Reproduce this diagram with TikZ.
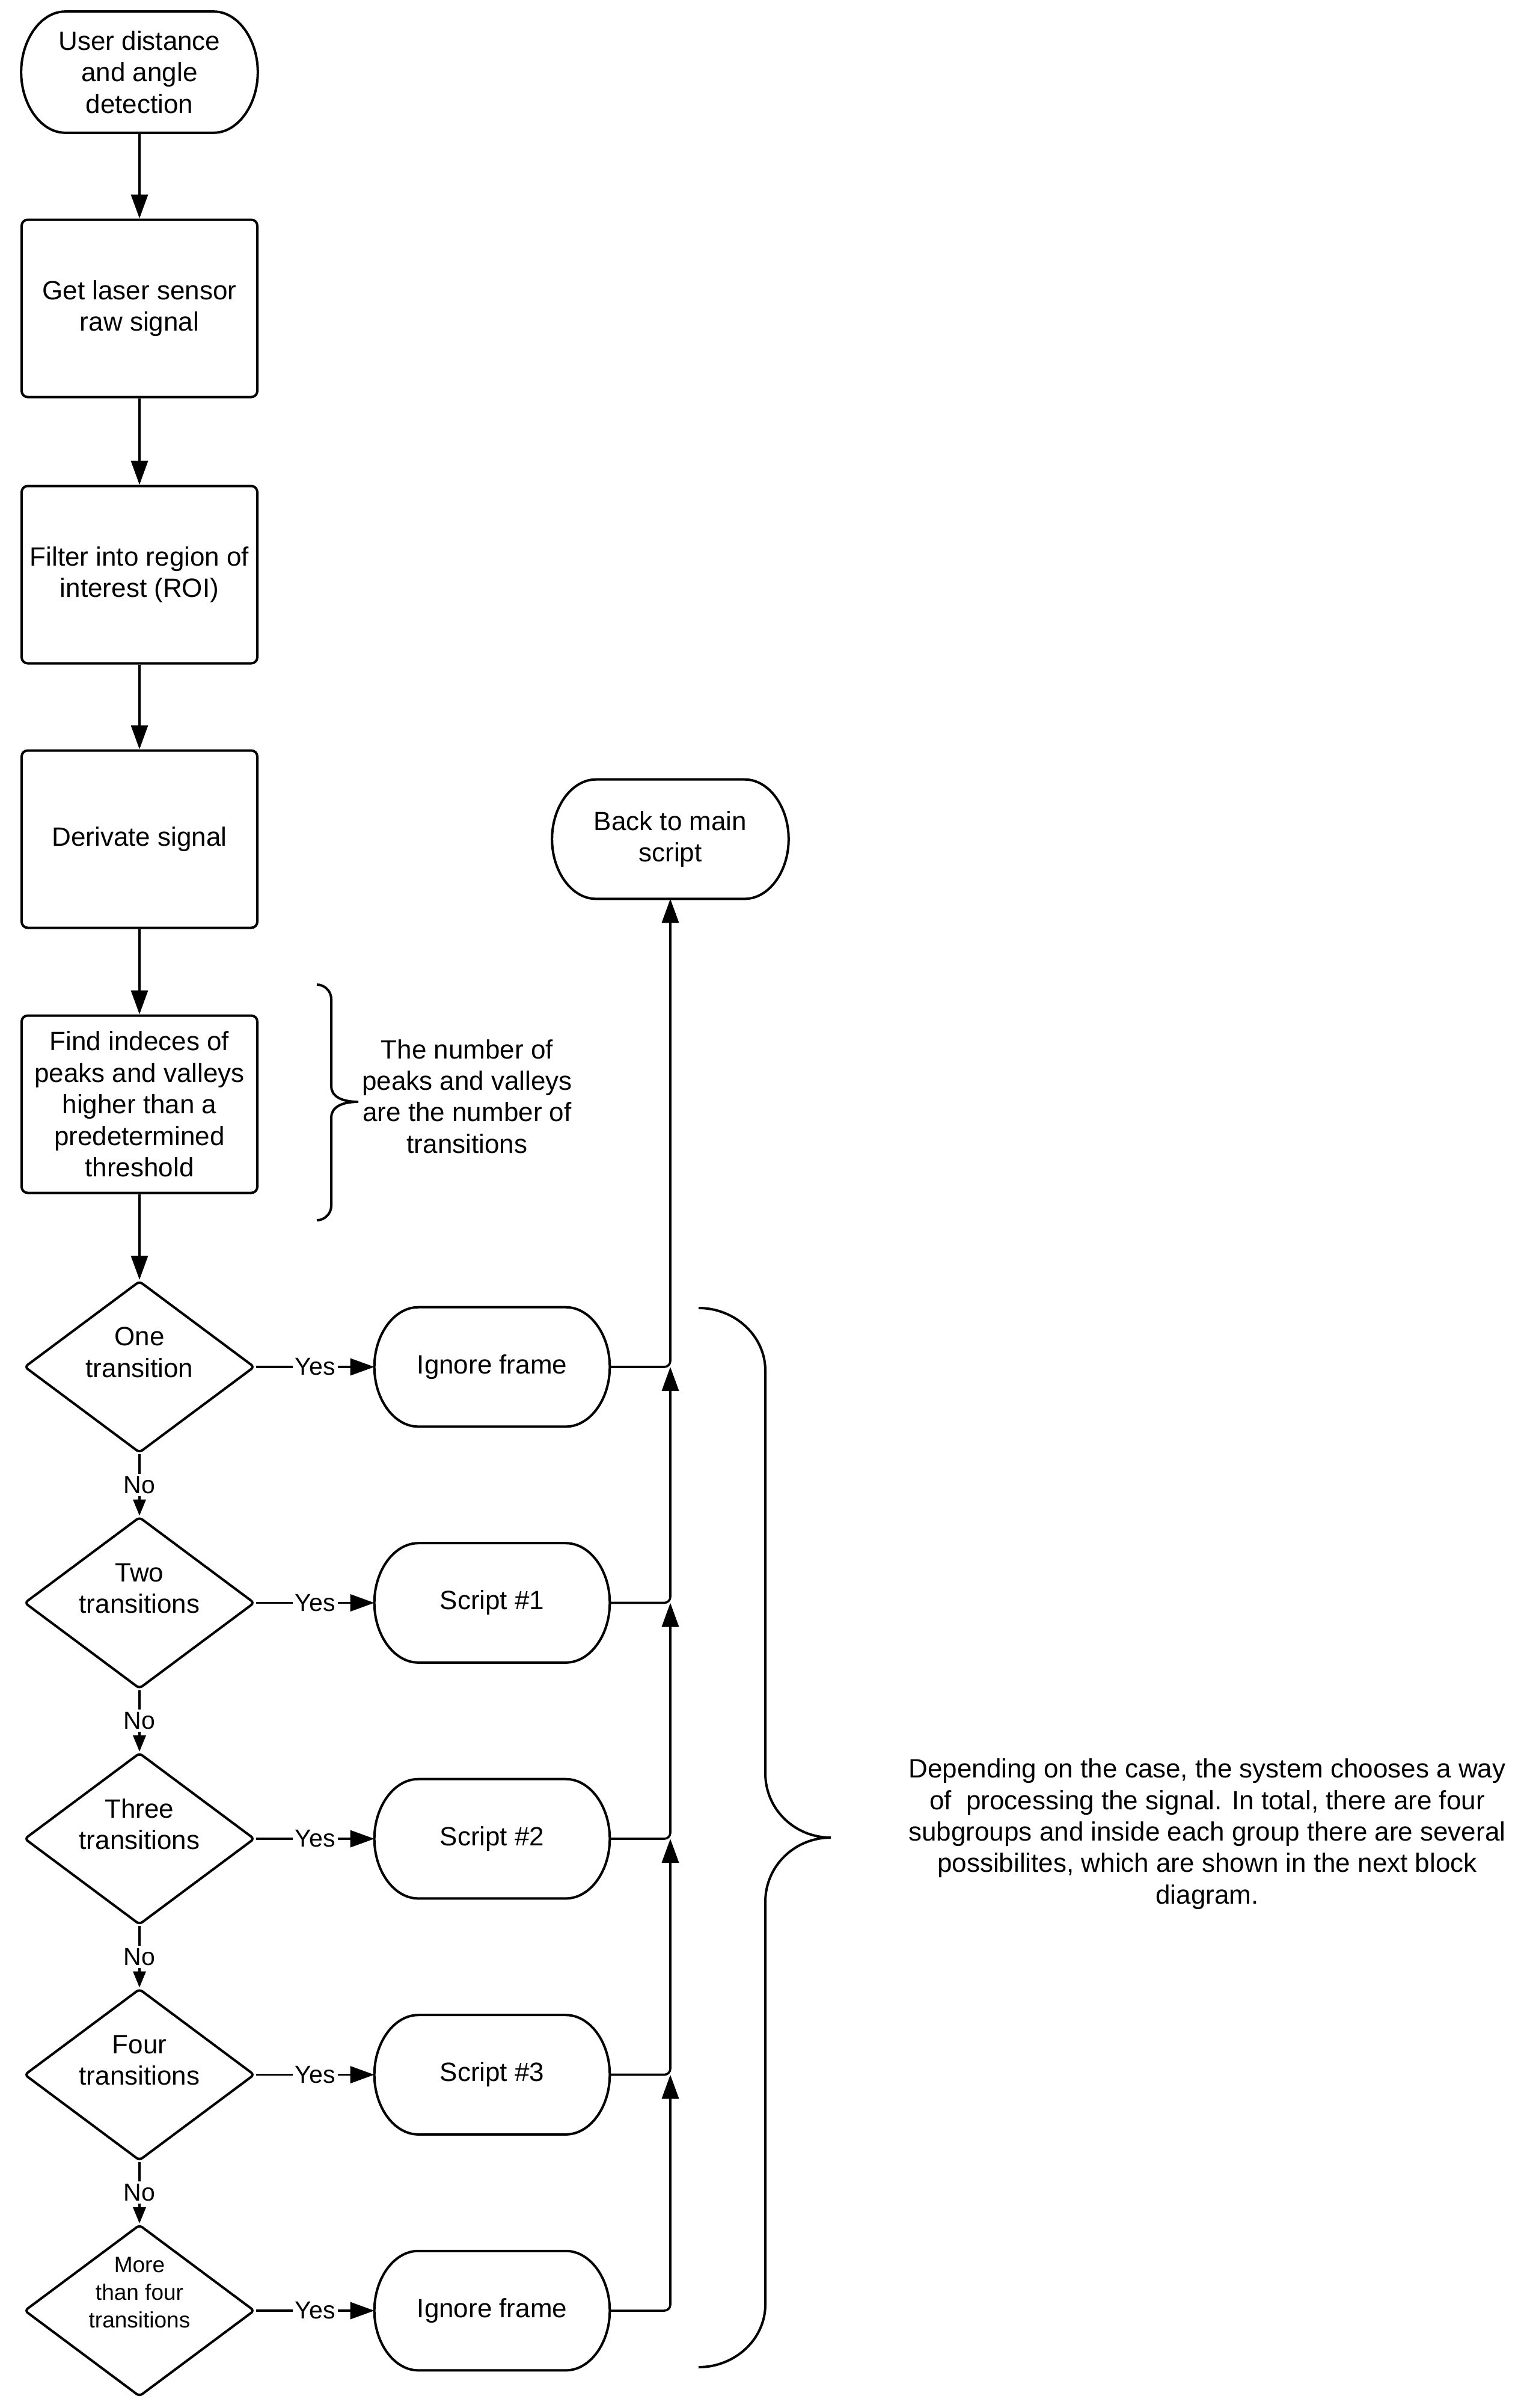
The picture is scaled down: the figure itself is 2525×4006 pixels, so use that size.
\documentclass[tikz,border=0pt]{standalone}
\usepackage{fontspec}
\setmainfont{Liberation Sans}
\usetikzlibrary{arrows.meta,shapes.geometric,calc}
\newcommand\stadoutline[1]{%
  \draw[shapeline] ($(#1.north west)+(73,0)$) -- ($(#1.north east)+(-73,0)$)
    .. controls ($(#1.north east)+(-33,0)$) and ($(#1.east)+(0,-54)$) .. (#1.east)
    .. controls ($(#1.east)+(0,54)$) and ($(#1.south east)+(-33,0)$) .. ($(#1.south east)+(-73,0)$)
    -- ($(#1.south west)+(73,0)$)
    .. controls ($(#1.south west)+(33,0)$) and ($(#1.west)+(0,54)$) .. (#1.west)
    .. controls ($(#1.west)+(0,-54)$) and ($(#1.north west)+(33,0)$) .. cycle;}
\begin{document}
\begin{tikzpicture}[x=0.25pt,y=-0.25pt,
  every node/.style={font=\fontsize{11pt}{13.1pt}\selectfont, inner sep=0pt},
  shapeline/.style={line width=1pt, black},
  stepbox/.style={draw, line width=1pt, rounded corners=2.5pt, minimum width=98pt, minimum height=73.75pt, align=center},
  decision/.style={draw, diamond, line width=1pt, rounded corners=1.5pt, minimum width=95.75pt, minimum height=71.5pt},
  term/.style={rectangle, minimum width=97.5pt, minimum height=49.25pt, align=center},
  startterm/.style={rectangle, minimum width=98pt, minimum height=50pt, align=center},
  dtext/.style={align=center},
  conn/.style={line width=0.9pt, -{Triangle[length=10pt,width=7pt]}},
  noconn/.style={line width=0.9pt, -{Triangle[length=6.75pt,width=5.25pt]}},
  lbl/.style={fill=white, inner sep=1pt, font=\fontsize{10.25pt}{12pt}\selectfont},
]
\useasboundingbox (0,0) rectangle (2525,4006);

% left column
\node[startterm] (start) at (232,120) {User distance\\and angle\\detection};
\stadoutline{start}
\node[stepbox] (box2) at (232,513) {Get laser sensor\\raw signal};
\node[stepbox] (box3) at (232,956) {Filter into region of\\interest (ROI)};
\node[stepbox] (box4) at (232,1396) {Derivate signal};
\node[stepbox] (box5) at (232,1837) {Find indeces of\\peaks and valleys\\higher than a\\predetermined\\threshold};

% decisions
\node[decision] (d1) at (232,2274) {};
\node[decision] (d2) at (232,2666.5) {};
\node[decision] (d3) at (232,3059) {};
\node[decision] (d4) at (232,3451.5) {};
\node[decision] (d5) at (232,3844) {};
\node[dtext] (d1t) at ($(d1.center)+(0,-24)$) {One\\transition};
\node[dtext] (d2t) at ($(d2.center)+(0,-24)$) {Two\\transitions};
\node[dtext] (d3t) at ($(d3.center)+(0,-24)$) {Three\\transitions};
\node[dtext] (d4t) at ($(d4.center)+(0,-24)$) {Four\\transitions};
\node[dtext, font=\fontsize{9.25pt}{11.5pt}\selectfont] (d5t) at ($(d5.center)+(0,-30)$) {More\\than four\\transitions};

% terminals
\node[term] (t1) at (818.5,2274) {Ignore frame};
\node[term] (t2) at (818.5,2666.5) {Script \#1};
\node[term] (t3) at (818.5,3059) {Script \#2};
\node[term] (t4) at (818.5,3451.5) {Script \#3};
\node[term] (t5) at (818.5,3844) {Ignore frame};
\node[term, minimum width=98pt] (back) at (1115,1396) {Back to main\\script};
\foreach \n in {t1,t2,t3,t4,t5,back} {\stadoutline{\n}}

% notes
\node[align=center] (note1) at (777,1824) {The number of\\peaks and valleys\\are the number of\\transitions};
\node[align=center] (note2) at (2008,3051) {Depending on the case, the system chooses a way\\of\ \ processing the signal. In total, there are four\\subgroups and inside each group there are several\\possibilites, which are shown in the next block\\diagram.};

% main flow
\draw[conn] (start.south) -- (box2.north);
\draw[conn] (box2.south) -- (box3.north);
\draw[conn] (box3.south) -- (box4.north);
\draw[conn] (box4.south) -- (box5.north);
\draw[conn] (box5.south) -- (d1.north);

\draw[noconn] (d1.south) -- node[lbl]{No} (d2.north);
\draw[noconn] (d2.south) -- node[lbl]{No} (d3.north);
\draw[noconn] (d3.south) -- node[lbl]{No} (d4.north);
\draw[noconn] (d4.south) -- node[lbl]{No} (d5.north);

\draw[conn] (d1.east) -- node[lbl]{Yes} (t1.west);
\draw[conn] (d2.east) -- node[lbl]{Yes} (t2.west);
\draw[conn] (d3.east) -- node[lbl]{Yes} (t3.west);
\draw[conn] (d4.east) -- node[lbl]{Yes} (t4.west);
\draw[conn] (d5.east) -- node[lbl]{Yes} (t5.west);

% return line
\coordinate (j1) at (back.south |- t1.east);
\coordinate (j2) at (back.south |- t2.east);
\coordinate (j3) at (back.south |- t3.east);
\coordinate (j4) at (back.south |- t4.east);
\draw[conn, rounded corners=2.5pt] (t5.east) -| (j4);
\draw[conn, rounded corners=2.5pt] (t4.east) -| (j3);
\draw[conn, rounded corners=2.5pt] (t3.east) -| (j2);
\draw[conn, rounded corners=2.5pt] (t2.east) -| (j1);
\draw[conn, rounded corners=2.5pt] (t1.east) -| (back.south);

% braces
\draw[shapeline] (527,1638) .. controls (540,1638) and (551,1649) .. (551,1662)
  -- (551,1807) .. controls (551,1822) and (565,1833) .. (596,1833)
  .. controls (565,1833) and (551,1844) .. (551,1859)
  -- (551,2006) .. controls (551,2019) and (540,2030) .. (527,2030);
\draw[shapeline] (1162,2176) .. controls (1223,2176) and (1273,2223) .. (1273,2280)
  -- (1273,2950) .. controls (1273,3010) and (1322,3057) .. (1382,3057)
  .. controls (1322,3057) and (1273,3104) .. (1273,3164)
  -- (1273,3834) .. controls (1273,3891) and (1223,3938) .. (1162,3938);
\end{tikzpicture}
\end{document}
